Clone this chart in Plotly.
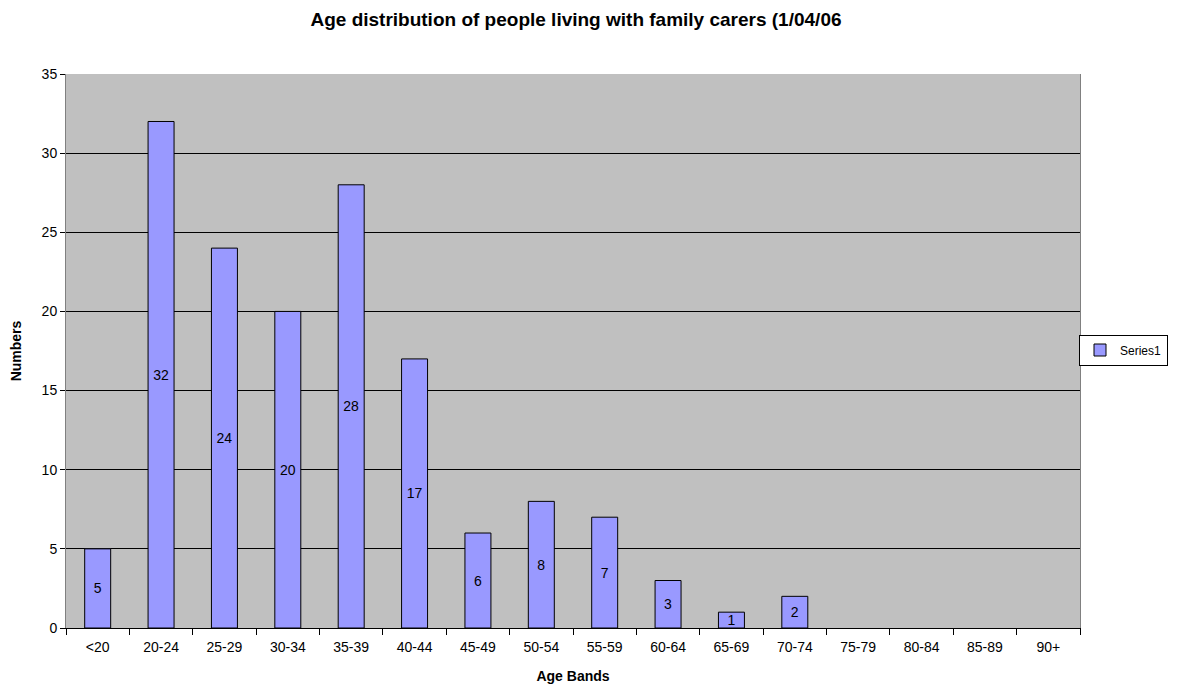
import plotly.graph_objects as go

categories = ["<20", "20-24", "25-29", "30-34", "35-39", "40-44", "45-49", "50-54",
              "55-59", "60-64", "65-69", "70-74", "75-79", "80-84", "85-89", "90+"]
values = [5, 32, 24, 20, 28, 17, 6, 8, 7, 3, 1, 2, 0, 0, 0, 0]
labels = [str(v) if v > 0 else "" for v in values]
outline_widths = [1 if v > 0 else 0 for v in values]

font = "Liberation Sans, Arial, sans-serif"
W, H = 1163, 676  # page has an 8px body margin

fig = go.Figure()
fig.add_trace(go.Bar(
    x=categories, y=values, name="Series1",
    marker=dict(color="#9999FF", line=dict(color="black", width=outline_widths)),
    text=labels, textposition="inside", insidetextanchor="middle",
    constraintext="none", textangle=0,
    textfont=dict(color="black", size=14, family=font),
    width=0.41,
))

fig.update_layout(
    width=W, height=H,
    margin=dict(l=58, r=91, t=66, b=56, autoexpand=False),
    paper_bgcolor="white", plot_bgcolor="#C0C0C0",
    font=dict(family=font, size=14, color="black"),
    title=dict(text="<b>Age distribution of people living with family carers (1/04/06</b>",
               x=568/W, xanchor="center", y=1-11/H, yanchor="middle",
               font=dict(size=19, family=font, color="black")),
    showlegend=True,
    legend=dict(x=1160/W, xref="container", y=1-342/H, yref="container",
                xanchor="right", yanchor="middle",
                bordercolor="black", borderwidth=1, bgcolor="white",
                itemwidth=30, tracegroupgap=0,
                font=dict(size=12, family=font)),
)
fig.update_xaxes(
    type="category", tickson="boundaries", ticks="outside", ticklen=6,
    tickcolor="black", showline=True, linecolor="black", linewidth=1,
    mirror=False, showgrid=False, ticklabelstandoff=6,
    title=dict(text="<b>Age Bands</b>", font=dict(size=14, family=font), standoff=24),
    tickfont=dict(size=14), zeroline=False,
)
fig.update_yaxes(
    range=[0, 35], dtick=5, ticks="outside", ticklen=5, tickcolor="black",
    showline=True, linecolor="#808080", linewidth=1, mirror=True,
    showgrid=True, gridcolor="black", gridwidth=1, zeroline=False,
    title=dict(text="<b>Numbers</b>", font=dict(size=14, family=font), standoff=16),
    tickfont=dict(size=14),
)
fig.write_html("out.html")
